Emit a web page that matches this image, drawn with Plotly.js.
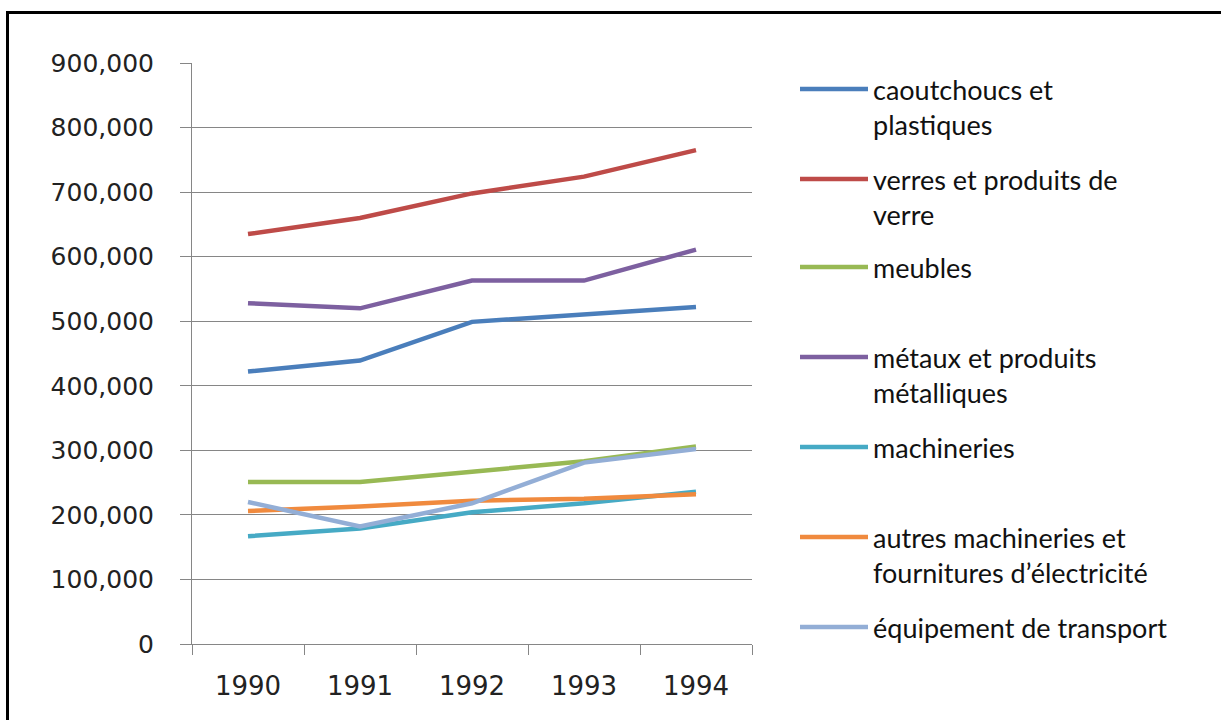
<!DOCTYPE html>
<html>
<head>
<meta charset="utf-8">
<script src="https://cdn.plot.ly/plotly-3.0.1.min.js"></script>
<style>
  html, body { margin: 0; padding: 0; background: #fff; overflow: hidden; }
  #wrap { position: relative; width: 1221px; height: 720px; }
  #chart { width: 1221px; height: 720px; }
  #frame { position: absolute; left: 6px; top: 11px; width: 1400px; height: 900px;
           border-left: 3px solid #000; border-top: 3px solid #000; pointer-events: none; }
</style>
</head>
<body>
<div id="wrap">
  <div id="chart"></div>
  <div id="frame"></div>
</div>
<script>
const years = ['1990', '1991', '1992', '1993', '1994'];

const seriesNames = [
  'caoutchoucs et<br>plastiques',
  'verres et produits de<br>verre',
  'meubles',
  'métaux et produits<br>métalliques',
  'machineries',
  'autres machineries et<br>fournitures d’électricité',
  'équipement de transport'
];

const caoutchoucs = [422000, 439000, 499000, 511000, 522000];
const verres      = [635000, 660000, 698000, 724000, 765000];
const meubles     = [251000, 251000, 267000, 283000, 306000];
const metaux      = [528000, 520000, 563000, 563000, 611000];
const machineries = [167000, 179000, 204000, 218000, 236000];
const autresMach  = [206000, 213000, 222000, 225000, 232000];
const transport   = [220000, 182000, 218000, 281000, 302000];

const yTicks = [0, 100000, 200000, 300000, 400000, 500000, 600000, 700000, 800000, 900000];

const allSeries = [caoutchoucs, verres, meubles, metaux, machineries, autresMach, transport];
const colors = ['#4A7EBB', '#BE4B48', '#98B954', '#7D60A0', '#46AAC5', '#F08A3E', '#93AED6'];

// plot area in pixels
const L = 192, R = 752, T = 63, B = 644;
const px2paperY = p => (B - p) / (B - T);
const px2paperX = p => (p - L) / (R - L);
const legendY = [90, 180, 268, 358, 448, 538, 628];

const traces = allSeries.map((vals, i) => ({
  type: 'scatter',
  mode: 'lines',
  x: years,
  y: vals,
  name: seriesNames[i],
  legend: i === 0 ? 'legend' : 'legend' + (i + 1),
  line: { color: colors[i], width: 4.5, shape: 'linear' },
  hoverinfo: 'x+y'
}));

const legendFont = { family: 'Lato, "Open Sans", sans-serif', size: 27, color: '#111' };
const layout = {
  width: 1221, height: 720,
  margin: { l: L, r: 1221 - R, t: T, b: 720 - B, pad: 0 },
  paper_bgcolor: '#fff', plot_bgcolor: '#fff',
  showlegend: true,
  xaxis: {
    type: 'category',
    range: [-0.5, 4.5],
    tickson: 'boundaries',
    ticks: 'outside', ticklen: 10, tickcolor: '#868686', tickwidth: 1,
    showline: true, linecolor: '#868686', linewidth: 1,
    showgrid: false, zeroline: false,
    tickfont: { family: '"DejaVu Sans", sans-serif', size: 26, color: '#222' },
    ticklabelstandoff: 19
  },
  yaxis: {
    range: [0, 900000],
    tickvals: yTicks,
    tickformat: ',',
    ticks: 'outside', ticklen: 11, tickcolor: '#868686', tickwidth: 1,
    showline: true, linecolor: '#868686', linewidth: 1,
    showgrid: true, gridcolor: '#868686', gridwidth: 1,
    zeroline: false,
    tickfont: { family: '"DejaVu Sans", sans-serif', size: 25, color: '#222' },
    ticklabelstandoff: 21
  }
};

legendY.forEach((py, i) => {
  const key = i === 0 ? 'legend' : 'legend' + (i + 1);
  layout[key] = {
    x: px2paperX(795), xanchor: 'left',
    y: px2paperY(py - 25), yanchor: 'top',
    valign: 'top',
    bgcolor: 'rgba(0,0,0,0)', borderwidth: 0,
    font: legendFont,
    itemwidth: 68,
    itemclick: false, itemdoubleclick: false
  };
});

Plotly.newPlot('chart', traces, layout, { displayModeBar: false, staticPlot: false });
</script>
</body>
</html>
